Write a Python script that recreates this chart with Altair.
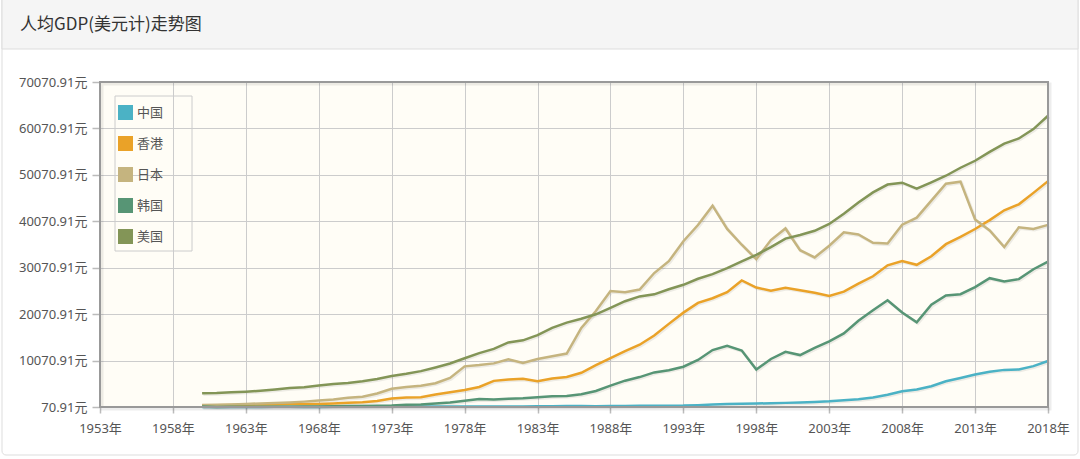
import altair as alt
import pandas as pd

years = list(range(1960, 2019))

china = [89.5, 75.8, 70.91, 74.3, 85.5, 98.5, 104.3, 96.6, 91.5, 100.1,
         113.2, 118.7, 131.9, 157.1, 160.1, 178.3, 165.4, 185.4, 156.4, 184.0,
         194.8, 197.1, 203.3, 225.4, 250.7, 294.5, 281.9, 251.8, 283.5, 310.9,
         317.9, 333.1, 366.5, 377.4, 473.5, 609.7, 709.4, 781.7, 828.6, 873.3,
         959.4, 1053.1, 1148.5, 1288.6, 1508.7, 1753.4, 2099.2, 2694.0, 3468.3, 3832.2,
         4550.5, 5618.1, 6316.9, 7050.6, 7678.6, 8066.9, 8147.9, 8879.4, 9976.7]

hongkong = [429.2, 445.2, 517.5, 581.9, 622.6, 677.1, 711.0, 736.7, 718.6, 824.6,
            960.0, 1106.6, 1384.0, 1893.0, 2108.0, 2153.3, 2755.0, 3244.0, 3718.0, 4377.0,
            5700.4, 5991.5, 6133.9, 5595.6, 6208.1, 6542.9, 7435.0, 9071.6, 10609.8, 12097.8,
            13485.5, 15465.9, 17976.4, 20395.5, 22502.6, 23497.5, 24818.1, 27330.0, 25808.8, 25091.7,
            25756.7, 25230.2, 24665.9, 23977.0, 24928.1, 26650.3, 28224.2, 30594.0, 31516.0, 30697.4,
            32550.0, 35142.5, 36730.9, 38403.8, 40315.3, 42431.9, 43731.0, 46193.6, 48717.0]

japan = [479.0, 563.6, 633.6, 717.9, 835.7, 919.8, 1058.5, 1228.9, 1450.6, 1669.1,
         2037.6, 2272.1, 2967.0, 3997.8, 4353.8, 4659.1, 5197.8, 6335.8, 8821.8, 9105.1,
         9463.4, 10361.3, 9578.1, 10425.4, 10984.9, 11584.6, 17111.9, 20745.2, 25051.9, 24813.3,
         25359.4, 28925.0, 31464.9, 35765.9, 39268.6, 43440.4, 38436.9, 35021.7, 31902.8, 36026.6,
         38532.0, 33846.5, 32289.4, 34808.4, 37688.7, 37217.6, 35433.9, 35275.2, 39339.3, 40855.2,
         44507.7, 48168.0, 48603.5, 40454.4, 38109.4, 34524.5, 38761.8, 38430.3, 39290.0]

korea = [158.2, 93.8, 106.2, 146.3, 123.6, 108.7, 133.5, 161.1, 198.3, 243.4,
         279.1, 301.0, 323.6, 404.6, 561.0, 615.2, 830.7, 1051.5, 1397.8, 1773.4,
         1704.5, 1870.3, 1977.4, 2180.5, 2390.5, 2457.3, 2803.4, 3510.9, 4686.7, 5738.4,
         6516.3, 7523.5, 8001.5, 8740.9, 10205.9, 12332.9, 13254.6, 12242.8, 8133.5, 10409.3,
         11947.6, 11252.9, 12782.5, 14209.4, 15921.9, 18639.5, 20888.4, 23060.7, 20430.6, 18291.9,
         22086.9, 24079.8, 24358.8, 25890.0, 27811.4, 27105.1, 27608.2, 29742.8, 31362.8]

usa = [3007.1, 3066.6, 3243.8, 3374.5, 3573.9, 3827.5, 4146.3, 4336.4, 4695.9, 5032.1,
       5234.3, 5609.4, 6094.0, 6726.4, 7225.7, 7801.5, 8592.3, 9452.6, 10565.0, 11674.2,
       12574.8, 13976.1, 14433.8, 15543.9, 17121.2, 18236.8, 19071.2, 20038.9, 21417.0, 22857.2,
       23888.6, 24342.3, 25419.0, 26387.3, 27694.9, 28690.9, 29967.7, 31459.1, 32853.7, 34513.6,
       36334.9, 37133.2, 38023.2, 39496.5, 41712.8, 44114.7, 46298.7, 47976.0, 48382.6, 47100.0,
       48466.8, 49883.1, 51603.5, 53106.9, 55033.0, 56803.5, 57904.2, 59927.9, 62794.6]

series_names = ["中国", "香港", "日本", "韩国", "美国"]
series_colors = ["#4bb2c5", "#EAA228", "#c5b47f", "#579575", "#839557"]
y_ticks = [70.91 + 10000 * i for i in range(8)]
x_ticks = list(range(1953, 2019, 5))
title_text = "人均GDP(美元计)走势图"

rows = []
for name, vals in zip(series_names, [china, hongkong, japan, korea, usa]):
    for yr, v in zip(years, vals):
        rows.append({"year": yr, "value": v, "country": name})
df = pd.DataFrame(rows)

FONT = "Noto Sans, Noto Sans CJK SC"
W, H = 948, 325

x_enc = alt.X(
    "year:Q",
    scale=alt.Scale(domain=[1953, 2018], nice=False, zero=False),
    axis=alt.Axis(values=x_ticks, labelExpr="datum.value + '年'", title=None,
                  grid=True, gridColor="#cccccc", gridWidth=1,
                  domain=False, tickColor="#bbbbbb", tickSize=6, tickWidth=1.5,
                  labelColor="#555555", labelFontSize=13, labelFont=FONT,
                  labelPadding=9, labelFlush=False),
)
y_enc = alt.Y(
    "value:Q",
    scale=alt.Scale(domain=[70.91, 70070.91], nice=False, zero=False),
    axis=alt.Axis(values=y_ticks, labelExpr="format(datum.value, '.2f') + '元'", title=None,
                  grid=True, gridColor="#cccccc", gridWidth=1,
                  domain=False, tickColor="#bbbbbb", tickSize=8, tickWidth=1.5,
                  labelColor="#555555", labelFontSize=13, labelFont=FONT,
                  labelPadding=5, labelFlush=False),
)

one = pd.DataFrame({"k": [0]})

card = alt.Chart(one).mark_rect(fill=None, stroke="#dddddd", strokeWidth=1,
                                cornerRadius=4).encode(
    x=alt.value(-98), x2=alt.value(W + 30), y=alt.value(-90), y2=alt.value(H + 48))
header = alt.Chart(one).mark_rect(fill="#f5f5f5", stroke="#dddddd", strokeWidth=1).encode(
    x=alt.value(-98), x2=alt.value(W + 30), y=alt.value(-90), y2=alt.value(-33))
title = alt.Chart(one).mark_text(text=title_text, align="left", baseline="middle",
                                 fontSize=17, font="Noto Sans CJK SC", color="#333333").encode(
    x=alt.value(-80), y=alt.value(-57))

legend_box = alt.Chart(one).mark_rect(fill=None, stroke="#cccccc", strokeWidth=1).encode(
    x=alt.value(15), x2=alt.value(92), y=alt.value(14), y2=alt.value(169))

border_shadow = alt.Chart(one).mark_rect(fill=None, stroke="#000000", strokeOpacity=0.07,
                                         strokeWidth=3).encode(
    x=alt.value(2), x2=alt.value(W + 2), y=alt.value(2), y2=alt.value(H + 2))
border = alt.Chart(one).mark_rect(fill=None, stroke="#999999", strokeWidth=2).encode(
    x=alt.value(0), x2=alt.value(W), y=alt.value(0), y2=alt.value(H))

shadow = alt.Chart(df).mark_line(strokeWidth=3, color="#000000", opacity=0.07,
                                 xOffset=1.2, yOffset=1.2).encode(
    x=x_enc, y=y_enc, detail="country:N")

lines = alt.Chart(df).mark_line(strokeWidth=2.5).encode(
    x=x_enc, y=y_enc,
    color=alt.Color("country:N",
                    scale=alt.Scale(domain=series_names, range=series_colors),
                    legend=alt.Legend(title=None, orient="none", legendX=18, legendY=23,
                                      symbolType="square", symbolSize=56,
                                      symbolStrokeWidth=7.5, symbolOpacity=1,
                                      labelFont=FONT, labelFontSize=13, labelColor="#555555",
                                      rowPadding=-8, padding=0, labelOffset=4,
                                      cornerRadius=0)),
)

chart = alt.layer(card, header, title, legend_box, shadow, lines, border_shadow, border).properties(
    width=W, height=H,
    autosize=alt.AutoSizeParams(type="none"),
    padding={"left": 100, "top": 82, "right": 32, "bottom": 52},
    background="#ffffff",
).configure_view(stroke=None, fill="#fffdf6")

chart.save("out.html", embed_options={"renderer": "svg", "actions": False})
